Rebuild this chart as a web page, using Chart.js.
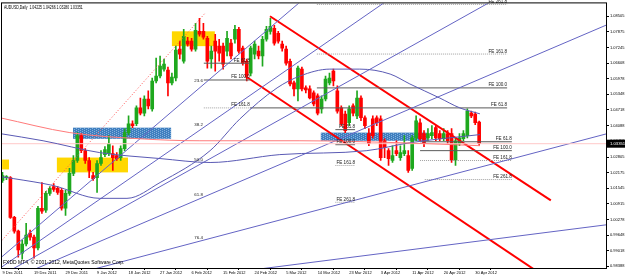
<!DOCTYPE html>
<html>
<head>
<meta charset="utf-8">
<script src="https://cdn.jsdelivr.net/npm/chart.js@4.4.0/dist/chart.umd.min.js"></script>
<style>
  html, body { margin: 0; padding: 0; background: #fff; }
  #wrap { width: 625px; height: 277px; }
</style>
</head>
<body>
<div id="wrap"><canvas id="chart"></canvas></div>
<script>
// ---- daily candles, bar index 0 = 9 Dec 2011 ----
const opens  = [1.0186,1.0198,1.0198,1.0037,0.9981,0.9892,0.9929,0.9973,0.9957,0.9913,1.0074,1.0066,1.0134,1.0162,1.0154,1.0146,1.0074,1.0134,1.0215,1.0267,1.0368,1.0307,1.0267,1.0206,1.0198,1.0255,1.0291,1.0295,1.0295,1.0287,1.0279,1.0315,1.0380,1.0416,1.0416,1.0480,1.0459,1.0516,1.0476,1.0589,1.0609,1.0637,1.0633,1.0581,1.0601,1.0718,1.0669,1.0750,1.0750,1.0718,1.0790,1.0790,1.0762,1.0678,1.0750,1.0730,1.0730,1.0710,1.0742,1.0758,1.0798,1.0722,1.0669,1.0621,1.0698,1.0710,1.0690,1.0758,1.0790,1.0802,1.0782,1.0738,1.0718,1.0669,1.0581,1.0557,1.0637,1.0561,1.0557,1.0541,1.0529,1.0476,1.0516,1.0581,1.0629,1.0549,1.0480,1.0455,1.0420,1.0488,1.0448,1.0520,1.0440,1.0376,1.0436,1.0440,1.0436,1.0347,1.0307,1.0267,1.0307,1.0279,1.0295,1.0287,1.0235,1.0359,1.0420,1.0376,1.0359,1.0368,1.0400,1.0376,1.0355,1.0376,1.0376,1.0267,1.0335,1.0355,1.0368,1.0459,1.0455,1.04225];
const highs  = [1.0219,1.0206,1.0202,1.0041,0.9985,0.9945,1.0013,0.9985,0.9965,1.0082,1.0178,1.0142,1.0162,1.0174,1.0162,1.0154,1.0146,1.0235,1.0287,1.0380,1.0376,1.0315,1.0279,1.0219,1.0267,1.0307,1.0323,1.0368,1.0327,1.0299,1.0327,1.0396,1.0448,1.0428,1.0488,1.0520,1.0529,1.0549,1.0601,1.0682,1.0690,1.0678,1.0645,1.0621,1.0730,1.0750,1.0798,1.0766,1.0762,1.0822,1.0843,1.0822,1.0770,1.0730,1.0778,1.0758,1.0742,1.0790,1.0758,1.0814,1.0806,1.0730,1.0678,1.0730,1.0750,1.0730,1.0770,1.0810,1.0843,1.0814,1.0790,1.0750,1.0730,1.0678,1.0589,1.0649,1.0645,1.0569,1.0569,1.0549,1.0537,1.0529,1.0609,1.0621,1.0637,1.0569,1.0488,1.0467,1.0488,1.0496,1.0549,1.0529,1.0448,1.0396,1.0448,1.0448,1.0448,1.0355,1.0315,1.0327,1.0347,1.0327,1.0368,1.0307,1.0368,1.0448,1.0436,1.0388,1.0396,1.0408,1.0408,1.0388,1.0396,1.0388,1.0396,1.0355,1.0376,1.0388,1.0476,1.0467,1.0463,1.04266];
const lows   = [1.0178,1.0190,1.0033,0.9973,0.9876,0.9868,0.9921,0.9945,0.9872,0.9905,1.0053,1.0057,1.0126,1.0142,1.0130,1.0066,1.0045,1.0126,1.0206,1.0259,1.0299,1.0255,1.0198,1.0186,1.0138,1.0247,1.0283,1.0287,1.0227,1.0267,1.0267,1.0307,1.0372,1.0400,1.0408,1.0452,1.0448,1.0476,1.0467,1.0581,1.0601,1.0629,1.0529,1.0573,1.0589,1.0678,1.0661,1.0730,1.0710,1.0710,1.0770,1.0758,1.0641,1.0641,1.0629,1.0669,1.0637,1.0690,1.0678,1.0742,1.0702,1.0653,1.0589,1.0609,1.0678,1.0678,1.0649,1.0750,1.0778,1.0734,1.0742,1.0710,1.0653,1.0569,1.0529,1.0508,1.0549,1.0541,1.0516,1.0488,1.0452,1.0459,1.0508,1.0573,1.0569,1.0459,1.0408,1.0380,1.0408,1.0448,1.0436,1.0428,1.0396,1.0327,1.0359,1.0408,1.0267,1.0279,1.0247,1.0259,1.0287,1.0267,1.0287,1.0219,1.0227,1.0347,1.0347,1.0323,1.0347,1.0355,1.0347,1.0347,1.0347,1.0335,1.0259,1.0247,1.0327,1.0347,1.0359,1.0440,1.0412,1.03280];
const closes = [1.0206,1.0199,1.0037,0.9981,0.9905,0.9929,0.9965,0.9957,0.9913,1.0074,1.0062,1.0134,1.0154,1.0150,1.0138,1.0074,1.0134,1.0215,1.0267,1.0368,1.0307,1.0267,1.0227,1.0194,1.0255,1.0279,1.0311,1.0335,1.0279,1.0275,1.0315,1.0380,1.0416,1.0408,1.0480,1.0459,1.0516,1.0488,1.0589,1.0609,1.0649,1.0657,1.0581,1.0605,1.0714,1.0698,1.0770,1.0738,1.0718,1.0794,1.0778,1.0766,1.0669,1.0710,1.0710,1.0702,1.0657,1.0762,1.0690,1.0798,1.0710,1.0661,1.0609,1.0722,1.0738,1.0690,1.0758,1.0798,1.0810,1.0742,1.0750,1.0722,1.0661,1.0577,1.0557,1.0641,1.0557,1.0553,1.0520,1.0496,1.0459,1.0516,1.0597,1.0601,1.0589,1.0467,1.0416,1.0388,1.0476,1.0459,1.0520,1.0440,1.0408,1.0335,1.0368,1.0420,1.0279,1.0319,1.0275,1.0287,1.0295,1.0299,1.0307,1.0227,1.0359,1.0428,1.0355,1.0335,1.0376,1.0380,1.0359,1.0355,1.0376,1.0347,1.0267,1.0347,1.0359,1.0376,1.0467,1.0448,1.0420,1.03351];

// axis labels
const dateBars   = [0, 8, 16, 24, 32, 40, 48, 56, 64, 72, 80, 88, 96, 104, 112, 120];
const dateLabels = ['9 Dec 2011','19 Dec 2011','29 Dec 2011','9 Jan 2012','18 Jan 2012','27 Jan 2012','6 Feb 2012','15 Feb 2012','24 Feb 2012','5 Mar 2012','14 Mar 2012','23 Mar 2012','3 Apr 2012','11 Apr 2012','20 Apr 2012','30 Apr 2012'];
const yTicks = [1.08505,1.07875,1.07245,1.06608,1.05978,1.05348,1.04718,1.04088,1.03458,1.02805,1.02175,1.01545,1.00915,1.00278,0.99648,0.99018,0.98388];
const xMin = -0.13, xMax = 153.2, yMin = 0.9832, yMax = 1.0903;

// moving averages (bar, price)
const maRedBars  = [-0.6, 17.1, 34.9, 50.1, 75.5, 100.9, 121.2];
const maRedVals  = [1.0440, 1.0380, 1.0355, 1.0347, 1.0347, 1.0339, 1.0327];
const maFastBars = [-0.6, 2.7, 12.8, 24.7, 31.6, 40, 52.7, 60.3, 69.7, 75.5, 83.1, 90.7, 98.4, 103.4, 111, 116.1, 121.2];
const maFastVals = [1.0202, 1.0194, 1.0166, 1.0114, 1.0114, 1.0178, 1.0307, 1.0436, 1.0561, 1.0609, 1.0637, 1.0637, 1.0617, 1.0577, 1.0520, 1.0480, 1.0456];
const maSlowBars = [-0.6, 10.3, 24.7, 40, 52.7, 70.4, 92.5, 103.4, 121.2];
const maSlowVals = [1.0376, 1.0347, 1.0299, 1.0275, 1.0259, 1.0291, 1.0307, 1.0339, 1.0372];

// fibo fan
const fanFrom = [-15.9, 0.9663];
const fanTo   = [51.4, 1.0863];
const fanLevels = [0.236, 0.382, 0.5, 0.618, 0.764, 0.886];
const fanNames  = ['23.6', '38.2', '50.0', '61.8', '76.4', ''];

// red channel
const chanUpper = [[67.9, 1.0851], [139.2, 1.0106]];
const chanLower = [[61.6, 1.0609], [142, 0.9751]];

// fibo expansions
const feNames = ['FE 61.8', 'FE 100.0', 'FE 161.8', 'FE 261.8'];
const fe1Start = [51.1, 51.1, 51.1], fe1End = 62.8, fe1Prices = [1.0661, 1.0593, 1.0480];
const fe2Start = [62.8, 79.8, 79.8, 79.8], fe2End = 128.1, fe2Prices = [1.0480, 1.0561, 1.0698, 1.0899];
const fe3Start = [106, 106, 106, 107.2], fe3End = 129.3, fe3Prices = [1.0343, 1.0307, 1.0267, 1.0190];
const fe4Start = [84.5, 84.5, 84.5, 84.5], fe4End = 89.5, fe4Prices = [1.0392, 1.0331, 1.0247, 1.0098];

// rectangles [barFrom, barTo, priceTop, priceBottom]
const yellowBoxes = [[-0.1, 1.65, 1.0271, 1.0231], [13.8, 31.85, 1.0279, 1.0219], [43.0, 53.9, 1.0790, 1.0730]];
const blueBoxes   = [[17.9, 42.8, 1.0400, 1.0355], [80.8, 107.7, 1.0380, 1.0347]];

const titleText = 'AUDUSD,Daily  1.04225 1.04266 1.03280 1.03351';
const copyText  = 'FXDD MT4, \u00a9 2001-2012, MetaQuotes Software Corp.';

const UP = '#1ea81e', DOWN = '#ff0000', FAN = '#6464c4', FONT = 'Liberation Sans, Arial, sans-serif';

const barColors = opens.map((o, i) => closes[i] >= o ? UP : DOWN);

function lineDs(pts, color, width, dash, smooth) {
  return {
    type: 'line', data: pts.map(([x, y]) => ({ x, y })),
    borderColor: color, borderWidth: width, borderDash: dash || [],
    pointRadius: 0, fill: false, order: 1,
    tension: smooth ? 0.4 : 0, cubicInterpolationMode: smooth ? 'monotone' : 'default'
  };
}
const zip = (xs, ys) => xs.map((x, i) => [x, ys[i]]);

const datasets = [];
// wicks + bodies
datasets.push({ type: 'bar', data: highs.map((h, i) => ({ x: i, y: [lows[i], h] })), backgroundColor: barColors, barThickness: 1, grouped: false, order: 10 });
datasets.push({ type: 'bar', data: opens.map((o, i) => ({ x: i, y: [o, closes[i]] })), backgroundColor: barColors, barThickness: 3, minBarLength: 1, grouped: false, order: 9 });

// indicators
datasets.push(lineDs(zip(maRedBars, maRedVals), '#ff7a7a', 1, null, true));
datasets.push(lineDs(zip(maFastBars, maFastVals), '#5a5ab4', 1, null, true));
datasets.push(lineDs(zip(maSlowBars, maSlowVals), '#5a5ab4', 1, null, true));
// last price line
datasets.push(lineDs([[xMin, closes[closes.length - 1]], [xMax, closes[closes.length - 1]]], '#ffc8c8', 1));

// fan
datasets.push(lineDs([fanFrom, fanTo], '#ff5050', 1, [1, 2]));
fanLevels.forEach(L => {
  const py = fanTo[1] - L * (fanTo[1] - fanFrom[1]);
  const k = (py - fanFrom[1]) / (fanTo[0] - fanFrom[0]);
  datasets.push(lineDs([fanFrom, [170, fanFrom[1] + k * (170 - fanFrom[0])]], FAN, 1));
});

// FE level lines
const feSets = [[fe1Start, fe1End, fe1Prices], [fe2Start, fe2End, fe2Prices], [fe3Start, fe3End, fe3Prices], [fe4Start, fe4End, fe4Prices]];
feSets.forEach(([st, en, ps]) => ps.forEach((p, k) => {
  const solid = k < 2;
  datasets.push(lineDs([[st[k], p], [en, p]], solid ? '#5a5a5a' : '#a0a0a0', 1, solid ? null : [1, 1]));
}));

// channel
datasets.push(lineDs(chanUpper, '#ff0000', 2));
datasets.push(lineDs(chanLower, '#ff0000', 2));

function sText(ctx, text, x, y, size, sx, align, color) {
  ctx.save();
  ctx.translate(x, y);
  ctx.scale(sx, 1);
  ctx.font = size + 'px ' + FONT;
  ctx.fillStyle = color;
  ctx.textAlign = align;
  ctx.textBaseline = 'alphabetic';
  ctx.fillText(text, 0, 0);
  ctx.restore();
}

const rectPlugin = {
  id: 'rects',
  beforeDatasetsDraw(chart) {
    const { ctx, chartArea: a, scales: { x, y } } = chart;
    ctx.save();
    ctx.beginPath(); ctx.rect(a.left, a.top, a.width, a.height); ctx.clip();
    const draw = (b, fill) => {
      const x0 = x.getPixelForValue(b[0]), x1 = x.getPixelForValue(b[1]);
      const y0 = y.getPixelForValue(b[2]), y1 = y.getPixelForValue(b[3]);
      ctx.fillStyle = fill;
      ctx.fillRect(x0, y0, x1 - x0, y1 - y0);
      return [x0, y0, x1, y1];
    };
    yellowBoxes.forEach(b => draw(b, '#ffd700'));
    blueBoxes.forEach(b => {
      const [x0, y0, x1, y1] = draw(b, '#3f7fbf');
      ctx.fillStyle = 'rgba(150,190,230,0.8)';
      for (let px = Math.ceil(x0); px < x1; px += 2)
        for (let py = Math.ceil(y0) + ((px & 2) ? 1 : 0); py < y1; py += 2) ctx.fillRect(px, py, 1, 1);
    });
    ctx.restore();
  }
};

const textPlugin = {
  id: 'texts',
  afterDatasetsDraw(chart) {
    const { ctx, chartArea: a, scales: { x, y } } = chart;
    // FE labels
    feSets.forEach(([st, en, ps]) => ps.forEach((p, k) => {
      sText(ctx, feNames[k], x.getPixelForValue(en), y.getPixelForValue(p) - 1.5, 4.6, 1, 'right', '#202020');
    }));
    // fan labels
    fanLevels.forEach((L, k) => {
      if (!fanNames[k]) return;
      const py = fanTo[1] - L * (fanTo[1] - fanFrom[1]);
      sText(ctx, fanNames[k], x.getPixelForValue(fanTo[0] - 2.7), y.getPixelForValue(py) - 1, 4.4, 1, 'left', '#202020');
    });
    // frame
    ctx.save();
    ctx.strokeStyle = '#000';
    ctx.lineWidth = 1;
    ctx.strokeRect(a.left - 0.5, a.top - 0.5, a.width + 1, a.height + 1);
    ctx.restore();
  },
  afterDraw(chart) {
    const { ctx, chartArea: a, scales: { y } } = chart;
    sText(ctx, titleText, a.left + 2, a.top + 6, 4.6, 0.76, 'left', '#000');
    sText(ctx, copyText, a.left + 1, a.bottom - 4, 5, 1, 'left', '#000');
    const last = closes[closes.length - 1];
    const py = y.getPixelForValue(last);
    ctx.fillStyle = '#000';
    ctx.fillRect(a.right + 1, py - 4, 19, 8);
    sText(ctx, last.toFixed(5), a.right + 4, py + 1.6, 4.2, 1, 'left', '#fff');
  }
};

new Chart(document.getElementById('chart'), {
  type: 'bar',
  data: { datasets },
  options: {
    responsive: true, maintainAspectRatio: false, animation: false,
    layout: { padding: { left: 2, top: 2, right: 0, bottom: 0 } },
    plugins: { legend: { display: false }, tooltip: { enabled: false } },
    scales: {
      x: {
        type: 'linear', min: xMin, max: xMax, offset: false,
        grid: { drawOnChartArea: false, tickLength: 2, color: '#000' },
        border: { color: '#000' },
        afterBuildTicks: s => { s.ticks = dateBars.map(v => ({ value: v })); },
        afterFit: s => { s.height = 9; },
        ticks: { font: { size: 4, family: FONT }, color: '#000', padding: 0, align: 'start', maxRotation: 0, autoSkip: false, callback: (v, i) => dateLabels[i] }
      },
      y: {
        position: 'right', min: yMin, max: yMax, beginAtZero: false,
        grid: { drawOnChartArea: false, tickLength: 3, color: '#000' },
        border: { color: '#000' },
        afterBuildTicks: s => { s.ticks = yTicks.map(v => ({ value: v })); },
        afterFit: s => { s.width = 19; },
        ticks: { font: { size: 4, family: FONT }, color: '#000', padding: 1, callback: (v, i) => yTicks[i].toFixed(5) }
      }
    }
  },
  plugins: [rectPlugin, textPlugin]
});
</script>
</body>
</html>
